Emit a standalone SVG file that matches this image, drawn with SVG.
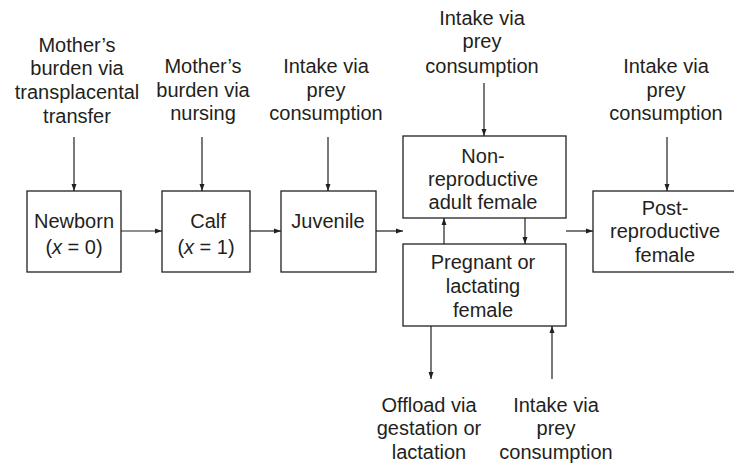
<svg xmlns="http://www.w3.org/2000/svg" width="734" height="464" viewBox="0 0 734 464">
<style>
text{font-family:"Liberation Sans",Arial,Helvetica,sans-serif;font-size:20px;fill:#231f20;text-anchor:middle}
.box{fill:#fff;stroke:#231f20;stroke-width:1.3}
.c{stroke:#231f20;stroke-width:1.2;fill:none;marker-end:url(#ah)}
.i{font-style:italic}
</style>
<defs>
<marker id="ah" markerWidth="7" markerHeight="6" refX="7" refY="3" orient="auto" markerUnits="userSpaceOnUse">
<path d="M0,0.5 L7,3 L0,5.5 Z" fill="#231f20"/>
</marker>
</defs>
<rect width="734" height="464" fill="#fff"/>
<g id="connectors">
<line class="c" x1="74" y1="137" x2="74" y2="191"/>
<line class="c" x1="202" y1="137" x2="202" y2="191"/>
<line class="c" x1="328" y1="137" x2="328" y2="191"/>
<line class="c" x1="484" y1="83" x2="484" y2="136"/>
<line class="c" x1="667" y1="137" x2="667" y2="191"/>
<line class="c" x1="121" y1="231" x2="162" y2="231"/>
<line class="c" x1="250" y1="231" x2="281" y2="231"/>
<line class="c" x1="376" y1="231" x2="403" y2="231"/>
<line class="c" x1="566" y1="231" x2="593" y2="231"/>
<line class="c" x1="444" y1="244" x2="444" y2="218"/>
<line class="c" x1="525" y1="218" x2="525" y2="244"/>
<line class="c" x1="431" y1="326" x2="431" y2="379"/>
<line class="c" x1="552" y1="379" x2="552" y2="326"/>
</g>
<g id="label-transplacental">
<text x="77" y="52">Mother’s</text>
<text x="77" y="75">burden via</text>
<text x="77" y="99">transplacental</text>
<text x="77" y="123">transfer</text>
</g>
<g id="label-nursing">
<text x="203" y="73">Mother’s</text>
<text x="203" y="97">burden via</text>
<text x="203" y="120">nursing</text>
</g>
<g id="label-intake-juvenile">
<text x="326" y="73">Intake via</text>
<text x="326" y="97">prey</text>
<text x="326" y="120">consumption</text>
</g>
<g id="label-intake-nonrepro">
<text x="482" y="25">Intake via</text>
<text x="482" y="48">prey</text>
<text x="482" y="73">consumption</text>
</g>
<g id="label-intake-post">
<text x="666" y="73">Intake via</text>
<text x="666" y="97">prey</text>
<text x="666" y="120">consumption</text>
</g>
<g id="label-offload">
<text x="429" y="412">Offload via</text>
<text x="429" y="435">gestation or</text>
<text x="429" y="459">lactation</text>
</g>
<g id="label-intake-pregnant">
<text x="556" y="412">Intake via</text>
<text x="556" y="435">prey</text>
<text x="556" y="459">consumption</text>
</g>
<g id="newborn">
<rect class="box" x="27" y="191" width="94" height="81"/>
<text x="74" y="228">Newborn</text>
<text x="74" y="254">(<tspan class="i">x</tspan> = 0)</text>
</g>
<g id="calf">
<rect class="box" x="162" y="191" width="88" height="81"/>
<text x="208" y="228">Calf</text>
<text x="206" y="254">(<tspan class="i">x</tspan> = 1)</text>
</g>
<g id="juvenile">
<rect class="box" x="281" y="191" width="95" height="81"/>
<text x="328" y="228">Juvenile</text>
</g>
<g id="nonreproductive">
<rect class="box" x="403" y="136" width="163" height="82"/>
<text x="483" y="163">Non-</text>
<text x="483" y="186">reproductive</text>
<text x="483" y="209">adult female</text>
</g>
<g id="pregnant">
<rect class="box" x="403" y="244" width="163" height="82"/>
<text x="483" y="269">Pregnant or</text>
<text x="483" y="293">lactating</text>
<text x="483" y="317">female</text>
</g>
<g id="postreproductive">
<rect class="box" x="593" y="191" width="145" height="81"/>
<text x="665" y="215">Post-</text>
<text x="665" y="238">reproductive</text>
<text x="665" y="262">female</text>
</g>
</svg>
